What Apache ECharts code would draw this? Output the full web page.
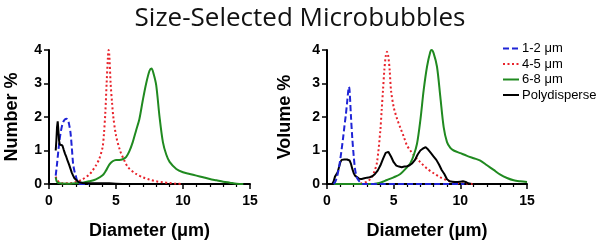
<!DOCTYPE html>
<html>
<head>
<meta charset="utf-8">
<script src="https://cdn.jsdelivr.net/npm/echarts@6/dist/echarts.min.js"></script>
<style>
html,body{margin:0;padding:0;background:#fff;}
#c{width:600px;height:245px;}
</style>
</head>
<body>
<div id="c"></div>
<script>
// ---- Data (diameter in µm, value in %) ----
const titleText = "Size-Selected Microbubbles";
const seriesNames = ["1-2 μm", "4-5 μm", "6-8 μm", "Polydisperse"];
const xTicks = [0, 5, 10, 15];
const yTicks = [0, 1, 2, 3, 4];

// Number % (left panel)
const numBlue = [[0.5,0.25],[0.6,0.6],[0.7,1.0],[0.8,1.35],[0.9,1.6],[1.0,1.78],[1.1,1.88],[1.2,1.93],[1.3,1.95],[1.4,1.92],[1.5,1.78],[1.6,1.55],[1.7,1.1],[1.8,0.6],[1.9,0.38],[2.0,0.24],[2.1,0.1],[2.2,0.03],[2.3,0],[3.0,0]];
const numRed = [[0.5,0.22],[0.6,0.12],[0.8,0.04],[1.0,0.02],[1.5,0.02],[2.0,0.06],[2.5,0.14],[3.0,0.28],[3.25,0.4],[3.5,0.55],[3.75,0.75],[4.0,1.1],[4.1,1.5],[4.2,2.1],[4.3,3.0],[4.4,3.8],[4.45,4.0],[4.5,3.85],[4.6,3.0],[4.7,2.45],[4.8,2.0],[5.0,1.45],[5.3,1.0],[5.6,0.72],[5.9,0.5],[6.5,0.3],[7.0,0.2],[7.5,0.13],[8.0,0.08],[8.5,0.05],[9.0,0.03],[9.5,0.01],[10.0,0]];
const numGreen = [[0.5,0.2],[0.6,0.06],[0.8,0.02],[1.5,0.01],[2.0,0.02],[2.5,0.04],[3.0,0.08],[3.5,0.14],[4.0,0.26],[4.25,0.4],[4.5,0.58],[4.75,0.68],[5.0,0.72],[5.25,0.72],[5.5,0.74],[5.75,0.8],[6.0,0.98],[6.25,1.25],[6.5,1.6],[6.75,1.95],[7.0,2.5],[7.25,3.0],[7.5,3.38],[7.65,3.45],[7.8,3.3],[8.0,2.95],[8.25,2.0],[8.5,1.25],[8.75,0.88],[9.0,0.66],[9.5,0.45],[10.0,0.35],[10.5,0.3],[11.0,0.25],[11.5,0.2],[12.0,0.15],[12.5,0.11],[13.0,0.07],[13.5,0.04],[14.0,0.01],[14.5,0]];
const numBlack = [[0.5,1.0],[0.55,1.3],[0.6,1.7],[0.65,1.87],[0.7,1.6],[0.75,1.3],[0.8,1.18],[0.9,1.2],[1.0,1.15],[1.1,1.02],[1.2,0.9],[1.3,0.8],[1.4,0.68],[1.5,0.58],[1.6,0.46],[1.7,0.34],[1.8,0.25],[1.9,0.17],[2.0,0.12],[2.2,0.06],[2.5,0.03],[3.0,0.02],[4.0,0.02],[4.5,0.02],[5.0,0.01],[5.5,0]];

// Volume % (right panel)
const volBlue = [[0.5,0],[0.6,0.05],[0.7,0.15],[0.8,0.3],[0.9,0.5],[1.0,0.75],[1.1,1.04],[1.2,1.35],[1.3,1.7],[1.4,2.02],[1.5,2.4],[1.6,2.8],[1.65,2.9],[1.7,2.75],[1.8,2.0],[1.9,1.35],[2.0,0.85],[2.1,0.45],[2.2,0.25],[2.3,0.15],[2.5,0.05],[2.7,0],[10.3,0]];
const volRed = [[2.5,0.01],[3.0,0.07],[3.25,0.15],[3.5,0.32],[3.75,0.65],[4.0,1.6],[4.1,2.2],[4.2,2.8],[4.3,3.4],[4.4,3.8],[4.5,3.95],[4.6,3.8],[4.7,3.4],[4.8,2.8],[5.0,2.3],[5.25,1.95],[5.5,1.68],[5.75,1.42],[6.0,1.15],[6.25,1.0],[6.5,0.86],[7.0,0.65],[7.5,0.46],[8.0,0.32],[8.5,0.2],[9.0,0.11],[9.5,0.05],[10.0,0.02],[10.5,0.01],[11.0,0]];
const volGreen = [[0.5,0],[3.5,0],[3.8,0.02],[4.0,0.04],[4.5,0.12],[5.0,0.2],[5.5,0.3],[6.0,0.5],[6.25,0.62],[6.5,0.85],[6.75,1.2],[7.0,1.9],[7.25,2.8],[7.5,3.5],[7.75,3.95],[7.85,4.0],[8.0,3.9],[8.25,3.5],[8.5,2.6],[8.75,1.7],[9.0,1.25],[9.25,1.08],[9.5,1.0],[10.0,0.92],[10.5,0.84],[11.0,0.77],[11.5,0.7],[12.0,0.56],[12.5,0.42],[13.0,0.28],[13.5,0.18],[14.0,0.11],[14.5,0.08],[15.0,0.06]];
const volBlack = [[0.4,0],[0.5,0.08],[0.6,0.22],[0.7,0.25],[0.8,0.35],[0.9,0.5],[1.0,0.65],[1.1,0.72],[1.2,0.74],[1.3,0.73],[1.4,0.74],[1.5,0.73],[1.6,0.74],[1.7,0.7],[1.8,0.6],[1.9,0.45],[2.0,0.33],[2.1,0.25],[2.2,0.2],[2.4,0.16],[2.6,0.15],[2.8,0.17],[3.0,0.19],[3.2,0.2],[3.4,0.23],[3.6,0.3],[3.8,0.4],[4.0,0.55],[4.2,0.75],[4.4,0.93],[4.5,0.98],[4.6,0.96],[4.8,0.82],[5.0,0.65],[5.2,0.55],[5.4,0.52],[5.6,0.5],[5.8,0.52],[6.0,0.53],[6.2,0.56],[6.4,0.62],[6.6,0.72],[6.8,0.88],[7.0,1.0],[7.2,1.06],[7.4,1.1],[7.6,1.02],[7.8,0.92],[8.0,0.82],[8.2,0.72],[8.4,0.58],[8.6,0.42],[8.8,0.3],[9.0,0.14],[9.2,0.08],[9.4,0.07],[9.6,0.06],[9.8,0.06],[10.0,0.07],[10.2,0.08],[10.4,0.06],[10.6,0.02],[10.8,0]];

// ---- Styles ----
const colors = ["#1f24d6", "#e8232b", "#208a20", "#000000"];
const lineTypes = [[6,3], [2,2.5], "solid", "solid"];
const smoothVals = [0.3, 0.3, 0.3, false];

function xAx(gi){
  return {
    type:'value', gridIndex:gi, min:0, max:15, interval:5,
    name:'Diameter (μm)', nameLocation:'middle', nameGap:38,
    nameTextStyle:{fontFamily:'Liberation Sans, Arial', fontWeight:'bold', fontSize:18, color:'#000'},
    axisLine:{show:true, lineStyle:{color:'#000', width:2}},
    axisTick:{show:true, length:5, lineStyle:{color:'#000', width:1.5}},
    minorTick:{show:true, splitNumber:5, length:3, lineStyle:{color:'#000', width:1.2}},
    axisLabel:{fontFamily:'Liberation Sans, Arial', fontWeight:'bold', fontSize:14, color:'#000', margin:10},
    splitLine:{show:false}
  };
}
function yAx(gi, name, gap){
  return {
    type:'value', gridIndex:gi, min:0, max:4, interval:1,
    name:name, nameLocation:'middle', nameGap:gap, nameRotate:90,
    nameTextStyle:{fontFamily:'Liberation Sans, Arial', fontWeight:'bold', fontSize:18, color:'#000'},
    axisLine:{show:true, lineStyle:{color:'#000', width:2}},
    axisTick:{show:true, length:5, lineStyle:{color:'#000', width:1.5}},
    axisLabel:{fontFamily:'Liberation Sans, Arial', fontWeight:'bold', fontSize:14, color:'#000', margin:7},
    splitLine:{show:false}
  };
}
function mk(name, idx, data, gi){
  return {
    name:name, type:'line', xAxisIndex:gi, yAxisIndex:gi, data:data,
    showSymbol:false, symbol:'none', smooth:smoothVals[idx], animation:false,
    lineStyle:{color:colors[idx], width:2, type:lineTypes[idx]},
    itemStyle:{color:colors[idx]}
  };
}

const chart = echarts.init(document.getElementById('c'), null, {renderer:'canvas'});
chart.setOption({
  animation:false,
  title:{text:titleText, left:'center', top:1,
    textStyle:{fontFamily:'Open Sans', fontWeight:'normal', fontSize:26, color:'#111'}},
  legend:{
    orient:'vertical', left:497, top:37, itemWidth:16, itemHeight:10, itemGap:2.5,
    data:seriesNames,
    itemStyle:{opacity:0},
    textStyle:{fontFamily:'Liberation Sans, Arial', fontSize:13, color:'#000', padding:[0,0,0,-2]}
  },
  grid:[
    {left:49, top:50, width:201, height:134},
    {left:327, top:50, width:200, height:135}
  ],
  xAxis:[xAx(0), xAx(1)],
  yAxis:[yAx(0,'Number %',28), yAx(1,'Volume %',33)],
  series:[
    mk(seriesNames[1],1,numRed,0),
    mk(seriesNames[2],2,numGreen,0),
    mk(seriesNames[0],0,numBlue,0),
    mk(seriesNames[3],3,numBlack,0),
    mk(seriesNames[1],1,volRed,1),
    mk(seriesNames[2],2,volGreen,1),
    mk(seriesNames[3],3,volBlack,1),
    mk(seriesNames[0],0,volBlue,1)
  ]
});
</script>
</body>
</html>
